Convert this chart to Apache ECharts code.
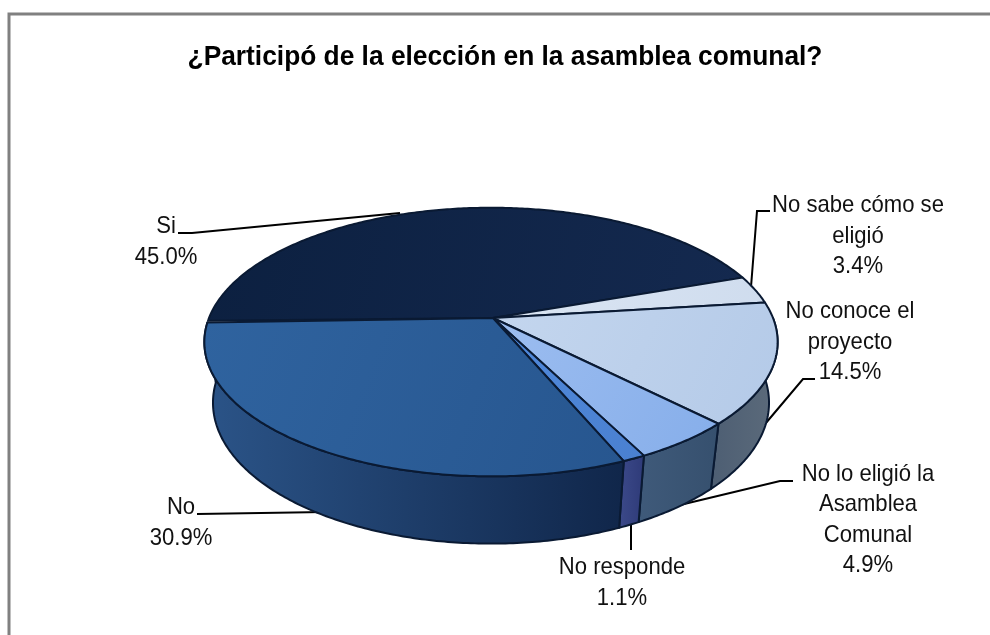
<!DOCTYPE html>
<html><head><meta charset="utf-8">
<style>html,body{margin:0;padding:0;background:#fff}#c{width:990px;height:635px}</style>
<script src="https://cdn.jsdelivr.net/npm/echarts@6/dist/echarts.min.js"></script>
</head><body><div id="c"></div>
<script>
const titleText = '¿Participó de la elección en la asamblea comunal?';
const categories = ['Si', 'No sabe cómo se\neligió', 'No conoce el\nproyecto', 'No lo eligió la\nAsamblea\nComunal', 'No responde', 'No'];
const shares = [45.0, 3.4, 14.5, 4.9, 1.1, 30.9];
const topColors = [['#0c2040','#14294f'], ['#dbe6f3','#cfdcee'], ['#c4d6ee','#b4cae8'], ['#9cbdf0','#86aeea'], ['#5089dc','#4a80d0'], ['#2f639f','#27568f']];
const sideColors = [['#101f3c','#101f3c'], ['#8a99ab','#8a99ab'], ['#4d5e73','#5c6b7b'], ['#3f5a7a','#36506e'], ['#3c4a8a','#2e3a78'], ['#2b5488','#10264a']];

const P = {cx: 491, cy: 318, A: 282, B: 130, k: 0.179, m: 0.03, D: 62, startDeg: 181.2};
function proj(deg, low) {
  const t = deg * Math.PI / 180, u = Math.cos(t), v = Math.sin(t);
  const w = 1 + P.k * v + (low ? P.m : 0);
  return [P.cx + P.A * u / w, P.cy + (-P.B * v + (low ? P.D : 0)) / w];
}
function arcPts(a, b, low) {
  const n = Math.max(2, Math.ceil(Math.abs(a - b) * 1.5)), out = [];
  for (let i = 0; i <= n; i++) out.push(proj(a + (b - a) * i / n, low));
  return out;
}
function grad(c, x2, y2) { return new echarts.graphic.LinearGradient(0, 0, x2, y2, [{offset: 0, color: c[0]}, {offset: 1, color: c[1]}]); }
function angles(cum, val) {
  return [P.startDeg - cum * 3.6, P.startDeg - (cum + val) * 3.6];
}
let acc = 0;
const seriesData = shares.map((s, i) => { const d = [s, acc, i]; acc += s; return d; });
const lineCol = '#0a1a33';

function renderSide(params, api) {
  const [a, b] = angles(api.value(1), api.value(0));
  const i = api.value(2);
  // only the front of the disc (negative angles) shows its wall
  const s = Math.min(a, 0), e = b;
  if (e >= s) return null;
  const top = arcPts(s, e, false), bot = arcPts(s, e, true).reverse();
  return {type: 'polygon', shape: {points: top.concat(bot)},
    style: {fill: grad(sideColors[i], 1, 0), stroke: lineCol, lineWidth: 2, lineJoin: 'round'}};
}
function renderTop(params, api) {
  const [a, b] = angles(api.value(1), api.value(0));
  const i = api.value(2);
  const pts = [[P.cx + 2, P.cy]].concat(arcPts(a, b, false));
  return {type: 'polygon', shape: {points: pts},
    style: {fill: grad(topColors[i], 1, 1), stroke: lineCol, lineWidth: 2, lineJoin: 'round'}};
}

const FONT = '"Liberation Sans",Arial,sans-serif';
const labelPlaces = [
  {x: 166, y: 242}, {x: 858, y: 236}, {x: 850, y: 342},
  {x: 868, y: 520}, {x: 622, y: 583}, {x: 181, y: 523}
];
const leaders = [
  [[178,233],[192,233],[400,213]],
  [[770,211],[757,211],[751,287]],
  [[815,379],[803,379],[760,430]],
  [[793,481],[780,481],[680,505]],
  [[631,524],[631,550]],
  [[197,514],[325,512]]
];
const graphics = [
  {type: 'rect', z: 0, shape: {x: 9, y: 14, width: 1100, height: 700}, style: {fill: '#fff', stroke: '#808080', lineWidth: 3}},
  {type: 'text', z: 10, x: 505, y: 57, scaleX: 0.94, style: {text: titleText, fill: '#000', font: 'bold 28px ' + FONT, textAlign: 'center', textVerticalAlign: 'middle'}}
];
leaders.forEach(l => graphics.push({type: 'polyline', z: 2, shape: {points: l}, style: {stroke: '#000', lineWidth: 2, fill: 'none'}}));
categories.forEach((c, i) => graphics.push({type: 'text', z: 10, x: labelPlaces[i].x, y: labelPlaces[i].y, scaleX: 0.92,
  style: {text: c + '\n' + shares[i].toFixed(1) + '%', fill: '#111', font: '24px ' + FONT, lineHeight: 30.5, textAlign: 'center', textVerticalAlign: 'middle'}}));

const chart = echarts.init(document.getElementById('c'), null, {renderer: 'canvas'});
chart.setOption({
  animation: false,
  backgroundColor: '#fff',
  graphic: graphics,
  series: [
    {type: 'custom', coordinateSystem: 'none', renderItem: renderSide, data: seriesData, z: 3, silent: true},
    {type: 'custom', coordinateSystem: 'none', renderItem: renderTop, data: seriesData, z: 4, silent: true}
  ]
});
</script></body></html>
